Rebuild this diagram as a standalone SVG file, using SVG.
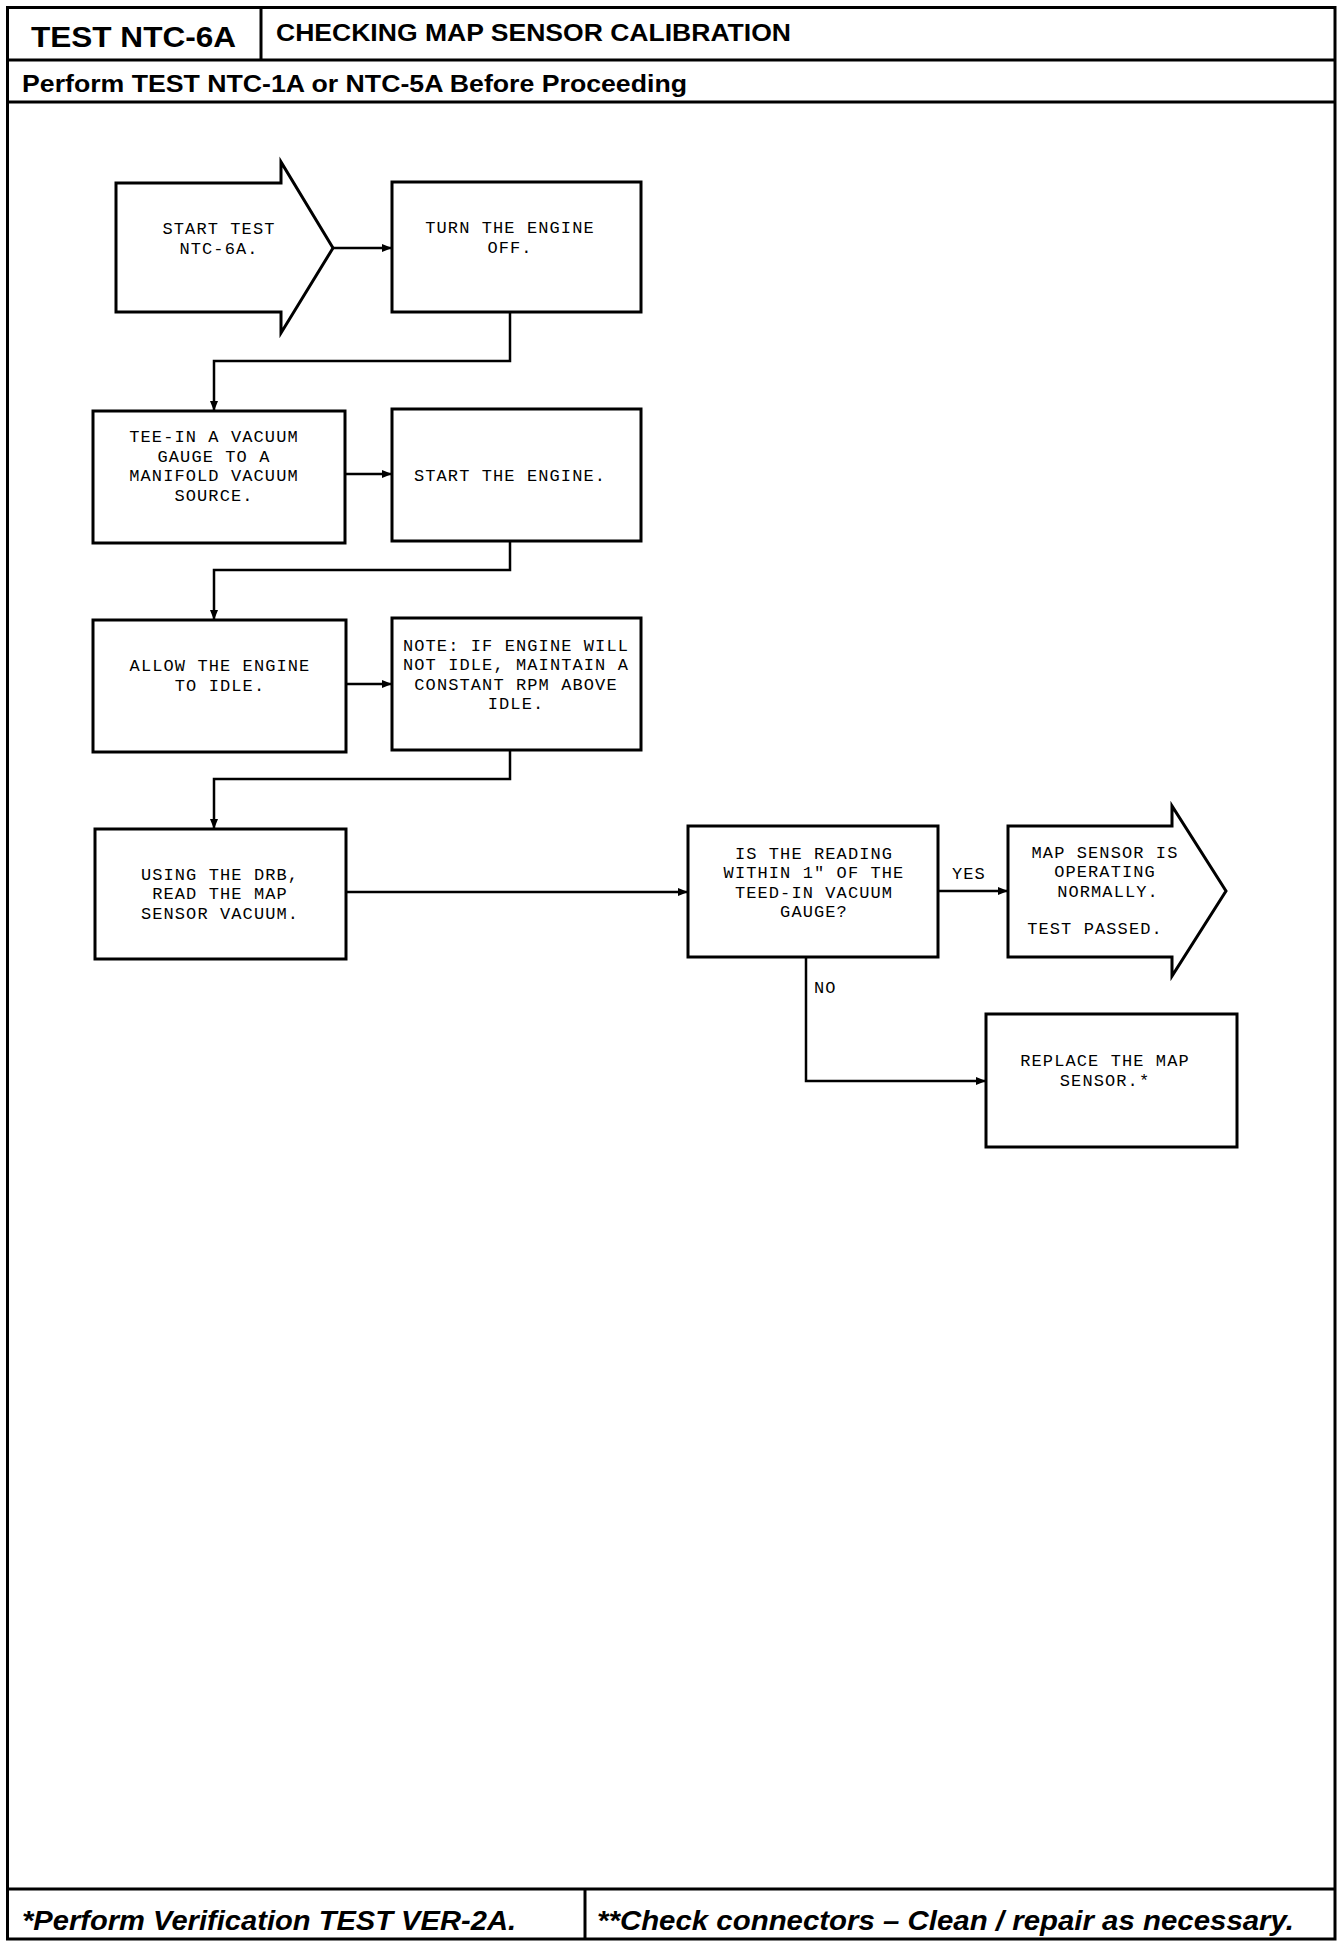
<svg xmlns="http://www.w3.org/2000/svg" width="1344" height="1948" viewBox="0 0 1344 1948">
<style>
.frame{fill:none;stroke:#000;stroke-width:3}
.box{fill:#fff;stroke:#000;stroke-width:3}
.conn{fill:none;stroke:#000;stroke-width:2.5}
.t{font-family:"Liberation Mono","DejaVu Sans Mono",monospace;font-size:17px;letter-spacing:1.1px;fill:#000;text-anchor:middle}
.tl{font-family:"Liberation Mono","DejaVu Sans Mono",monospace;font-size:17px;letter-spacing:1.1px;fill:#000}
.hb{font-family:"Liberation Sans",Arial,sans-serif;font-weight:bold;fill:#000}
.fi{font-family:"Liberation Sans",Arial,sans-serif;font-weight:bold;font-style:italic;fill:#000;font-size:27px}
</style>
<defs>
<marker id="ah" markerUnits="userSpaceOnUse" markerWidth="10" markerHeight="10" viewBox="0 0 10 10" refX="10" refY="5" orient="auto">
<path d="M0,1 L10,5 L0,9 Z" fill="#000"/>
</marker>
</defs>
<rect width="1344" height="1948" fill="#fff"/>
<g id="frame">
<rect class="frame" x="7.5" y="7.5" width="1327.5" height="1931.5"/>
<line class="frame" x1="7.5" y1="60" x2="1335" y2="60"/>
<line class="frame" x1="261" y1="7.5" x2="261" y2="60"/>
<line class="frame" x1="7.5" y1="102" x2="1335" y2="102"/>
<line class="frame" x1="7.5" y1="1889" x2="1335" y2="1889"/>
<line class="frame" x1="585" y1="1889" x2="585" y2="1939"/>
<text class="hb" x="31" y="47" font-size="29" textLength="205" lengthAdjust="spacingAndGlyphs">TEST NTC-6A</text>
<text class="hb" x="276" y="41" font-size="24" textLength="515" lengthAdjust="spacingAndGlyphs">CHECKING MAP SENSOR CALIBRATION</text>
<text class="hb" x="22" y="92" font-size="24" textLength="665" lengthAdjust="spacingAndGlyphs">Perform TEST NTC-1A or NTC-5A Before Proceeding</text>
<text class="fi" x="22" y="1930" textLength="494" lengthAdjust="spacingAndGlyphs">*Perform Verification TEST VER-2A.</text>
<text class="fi" x="597" y="1930" textLength="697" lengthAdjust="spacingAndGlyphs">**Check connectors – Clean / repair as necessary.</text>
</g>
<g id="connectors">
<line class="conn" x1="333" y1="248" x2="392" y2="248" marker-end="url(#ah)"/>
<polyline class="conn" points="510,312 510,361 214,361 214,411" marker-end="url(#ah)"/>
<line class="conn" x1="345" y1="474" x2="392" y2="474" marker-end="url(#ah)"/>
<polyline class="conn" points="510,541 510,570 214,570 214,620" marker-end="url(#ah)"/>
<line class="conn" x1="346" y1="684" x2="392" y2="684" marker-end="url(#ah)"/>
<polyline class="conn" points="510,750 510,779 214,779 214,829" marker-end="url(#ah)"/>
<line class="conn" x1="346" y1="892" x2="688" y2="892" marker-end="url(#ah)"/>
<line class="conn" x1="938" y1="891" x2="1008" y2="891" marker-end="url(#ah)"/>
<polyline class="conn" points="806,957 806,1081 986,1081" marker-end="url(#ah)"/>
<text class="tl" x="952" y="879">YES</text>
<text class="tl" x="814" y="993">NO</text>
</g>
<g id="start">
<path class="box" d="M116,183 L281,183 L281,162 L333,248 L281,333 L281,312 L116,312 Z"/>
<text class="t" x="219" y="234">START TEST</text>
<text class="t" x="219" y="254">NTC-6A.</text>
</g>
<g id="turn-off">
<rect class="box" x="392" y="182" width="249" height="130"/>
<text class="t" x="510" y="233">TURN THE ENGINE</text>
<text class="t" x="510" y="253">OFF.</text>
</g>
<g id="tee-in">
<rect class="box" x="93" y="411" width="252" height="132"/>
<text class="t" x="214" y="442">TEE-IN A VACUUM</text>
<text class="t" x="214" y="462">GAUGE TO A</text>
<text class="t" x="214" y="481">MANIFOLD VACUUM</text>
<text class="t" x="214" y="501">SOURCE.</text>
</g>
<g id="start-engine">
<rect class="box" x="392" y="409" width="249" height="132"/>
<text class="t" x="510" y="481">START THE ENGINE.</text>
</g>
<g id="allow-idle">
<rect class="box" x="93" y="620" width="253" height="132"/>
<text class="t" x="220" y="671">ALLOW THE ENGINE</text>
<text class="t" x="220" y="691">TO IDLE.</text>
</g>
<g id="note">
<rect class="box" x="392" y="618" width="249" height="132"/>
<text class="t" x="516" y="651">NOTE: IF ENGINE WILL</text>
<text class="t" x="516" y="670">NOT IDLE, MAINTAIN A</text>
<text class="t" x="516" y="690">CONSTANT RPM ABOVE</text>
<text class="t" x="516" y="709">IDLE.</text>
</g>
<g id="read-map">
<rect class="box" x="95" y="829" width="251" height="130"/>
<text class="t" x="220" y="879.5">USING THE DRB,</text>
<text class="t" x="220" y="899">READ THE MAP</text>
<text class="t" x="220" y="918.5">SENSOR VACUUM.</text>
</g>
<g id="decision">
<rect class="box" x="688" y="826" width="250" height="131"/>
<text class="t" x="814" y="859">IS THE READING</text>
<text class="t" x="814" y="878">WITHIN 1" OF THE</text>
<text class="t" x="814" y="898">TEED-IN VACUUM</text>
<text class="t" x="814" y="917">GAUGE?</text>
</g>
<g id="passed">
<path class="box" d="M1008,826 L1172,826 L1172,806 L1226,891 L1172,976 L1172,957 L1008,957 Z"/>
<text class="t" x="1105" y="857.5">MAP SENSOR IS</text>
<text class="t" x="1105" y="877">OPERATING</text>
<text class="t" x="1108" y="896.5">NORMALLY.</text>
<text class="t" x="1095" y="934">TEST PASSED.</text>
</g>
<g id="replace">
<rect class="box" x="986" y="1014" width="251" height="133"/>
<text class="t" x="1105" y="1066">REPLACE THE MAP</text>
<text class="t" x="1105" y="1085.5">SENSOR.*</text>
</g>
</svg>
